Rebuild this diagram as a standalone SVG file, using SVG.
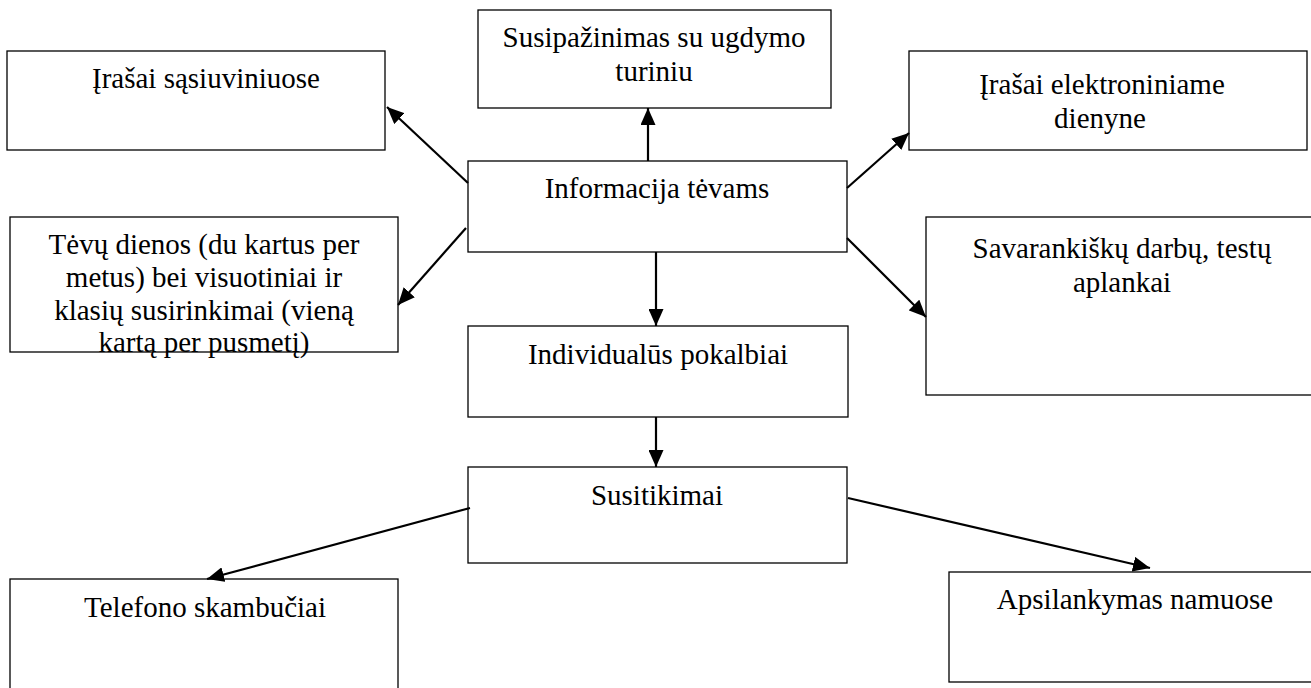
<svg xmlns="http://www.w3.org/2000/svg" width="1311" height="688" viewBox="0 0 1311 688">
<style>
.box{fill:#fff;stroke:#000;stroke-width:1.3}
.t{font-family:"Liberation Serif","Times New Roman",serif;font-size:29px;fill:#000;text-anchor:middle}
.c{stroke:#000;stroke-width:2.2;fill:none;marker-end:url(#ah)}
</style>
<defs>
<marker id="ah" markerUnits="userSpaceOnUse" markerWidth="17" markerHeight="15" refX="17" refY="7.5" orient="auto">
<path d="M0,0 L17,7.5 L0,15 z" fill="#000"/>
</marker>
</defs>
<rect width="1311" height="688" fill="#fff"/>
<g id="n-sasiuviniai"><rect class="box" x="7" y="51" width="378" height="99"/><text class="t" x="206" y="88">Įrašai sąsiuviniuose</text></g>
<g id="n-ugdymo"><rect class="box" x="478" y="10" width="353" height="98"/><text class="t" x="654" y="47">Susipažinimas su ugdymo</text><text class="t" x="654" y="81">turiniu</text></g>
<g id="n-dienynas"><rect class="box" x="909" y="51" width="398" height="99"/><text class="t" x="1102" y="94">Įrašai elektroniniame</text><text class="t" x="1100" y="128">dienyne</text></g>
<g id="n-info"><rect class="box" x="468" y="161" width="379" height="91"/><text class="t" x="657" y="198">Informacija tėvams</text></g>
<g id="n-dienos"><rect class="box" x="10" y="217" width="388" height="135"/><text class="t" x="204" y="254">Tėvų dienos (du kartus per</text><text class="t" x="204" y="287">metus) bei visuotiniai ir</text><text class="t" x="204" y="320">klasių susirinkimai (vieną</text><text class="t" x="204" y="352">kartą per pusmetį)</text></g>
<g id="n-aplankai"><rect class="box" x="926" y="217" width="400" height="178"/><text class="t" x="1122" y="258">Savarankiškų darbų, testų</text><text class="t" x="1122" y="292">aplankai</text></g>
<g id="n-pokalbiai"><rect class="box" x="468" y="326" width="380" height="91"/><text class="t" x="658" y="364">Individualūs pokalbiai</text></g>
<g id="n-susitikimai"><rect class="box" x="468" y="467" width="379" height="96"/><text class="t" x="657" y="505">Susitikimai</text></g>
<g id="n-telefono"><rect class="box" x="10" y="579" width="388" height="120"/><text class="t" x="205" y="617">Telefono skambučiai</text></g>
<g id="n-apsilankymas"><rect class="box" x="949" y="572" width="380" height="110"/><text class="t" x="1135" y="609">Apsilankymas namuose</text></g>
<g id="connectors">
<line class="c" x1="468" y1="183" x2="387" y2="107"/>
<line class="c" x1="648" y1="161" x2="648" y2="108"/>
<line class="c" x1="847" y1="188" x2="909" y2="133"/>
<line class="c" x1="466" y1="228" x2="398" y2="305"/>
<line class="c" x1="847" y1="238" x2="926" y2="317"/>
<line class="c" x1="656" y1="252" x2="656" y2="326"/>
<line class="c" x1="656" y1="417" x2="656" y2="467"/>
<line class="c" x1="470" y1="508" x2="207" y2="579"/>
<line class="c" x1="848" y1="498" x2="1150" y2="568"/>
</g>
</svg>
